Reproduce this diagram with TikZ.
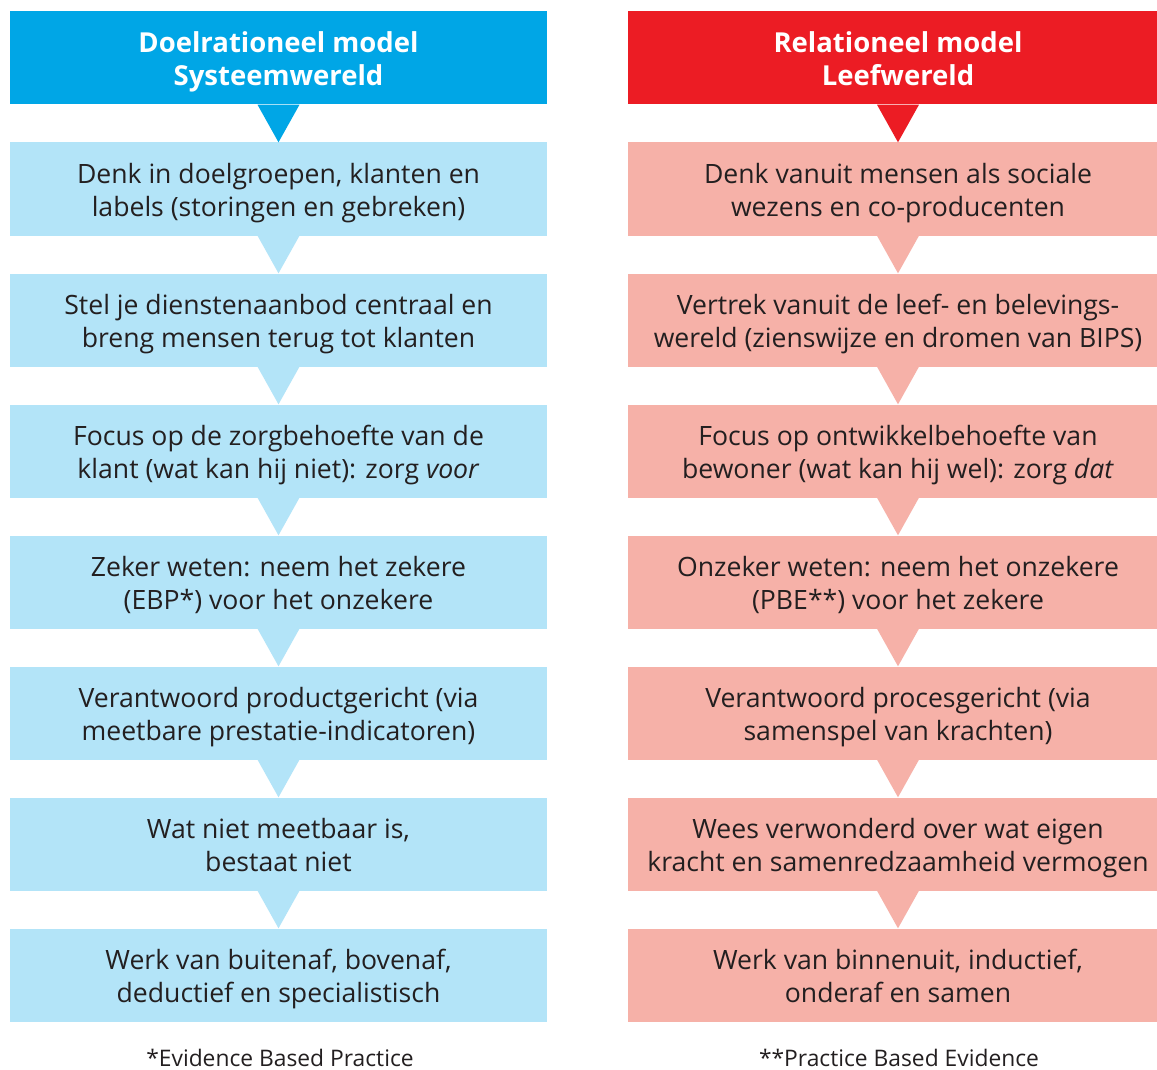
\documentclass[tikz,border=0pt]{standalone}
\usepackage{fontspec}
\setmainfont{Open Sans}
\usetikzlibrary{calc}
\definecolor{hblue}{HTML}{00A6E6}
\definecolor{lblue}{HTML}{B3E4F8}
\definecolor{hred}{HTML}{EC1C24}
\definecolor{lred}{HTML}{F6B1A8}
\definecolor{txt}{HTML}{231F20}
\tikzset{
  box/.style={rectangle, inner sep=0pt, minimum height=93pt, align=center, text=txt,
    font=\fontsize{26.6}{32.5}\selectfont},
  lbox/.style={box, fill=lblue, minimum width=537pt},
  rbox/.style={box, fill=lred, minimum width=540pt},
  hdr/.style={box, text=white, font=\fontsize{27.5}{32.5}\selectfont\bfseries},
  lhdr/.style={hdr, fill=hblue, minimum width=537pt},
  rhdr/.style={hdr, fill=hred, minimum width=540pt},
  note/.style={inner sep=0pt, text=txt, font=\fontsize{22.8}{26}\selectfont},
}
\newcommand{\tri}[3]{\fill[#3] ($(#1.south)+(-21pt,0)$) -- ($(#1.south)+(21pt,0)$) -- (#2.north) -- cycle;}
\newcommand{\tl}[2]{\rule{0pt}{31.5pt}#1\\#2\rule[-9.75pt]{0pt}{9.75pt}}
\begin{document}
\begin{tikzpicture}[x=1pt,y=-1pt]
\useasboundingbox (0,0) rectangle (1157,1070);
\fill[white] (0,0) rectangle (1157,1070);
% left column
\node[lhdr] (L0) at (278.5,58) {\tl{Doelrationeel model}{Systeemwereld}};
\node[lbox] (L1) at (278.5,189) {\tl{Denk in doelgroepen, klanten en}{labels (storingen en gebreken)}};
\node[lbox] (L2) at (278.5,320) {\tl{Stel je dienstenaanbod centraal en}{breng mensen terug tot klanten}};
\node[lbox] (L3) at (278.5,451) {\tl{Focus op de zorgbehoefte van de}{klant (wat kan hij niet): zorg \textit{voor}}};
\node[lbox] (L4) at (278.5,582) {\tl{Zeker weten: neem het zekere}{(EBP*) voor het onzekere}};
\node[lbox] (L5) at (278.5,713) {\tl{Verantwoord productgericht (via}{meetbare prestatie-indicatoren)}};
\node[lbox] (L6) at (278.5,844) {\tl{Wat niet meetbaar is,}{bestaat niet}};
\node[lbox] (L7) at (278.5,975) {\tl{Werk van buitenaf, bovenaf,}{deductief en specialistisch}};
\node[note] (LN) at (280,1058) {*Evidence Based Practice};
% right column
\node[rhdr] (R0) at (898,58) {\tl{Relationeel model}{Leefwereld}};
\node[rbox] (R1) at (898,189) {\tl{Denk vanuit mensen als sociale}{wezens en co-producenten}};
\node[rbox] (R2) at (898,320) {\tl{Vertrek vanuit de leef- en belevings-}{wereld (zienswijze en dromen van BIPS)}};
\node[rbox] (R3) at (898,451) {\tl{Focus op ontwikkelbehoefte van}{bewoner (wat kan hij wel): zorg \textit{dat}}};
\node[rbox] (R4) at (898,582) {\tl{Onzeker weten: neem het onzekere}{(PBE**) voor het zekere}};
\node[rbox] (R5) at (898,713) {\tl{Verantwoord procesgericht (via}{samenspel van krachten)}};
\node[rbox] (R6) at (898,844) {\tl{Wees verwonderd over wat eigen}{kracht en samenredzaamheid vermogen}};
\node[rbox] (R7) at (898,975) {\tl{Werk van binnenuit, inductief,}{onderaf en samen}};
\node[note] (RN) at (899,1058) {**Practice Based Evidence};
% triangles
\tri{L0}{L1}{hblue}
\tri{R0}{R1}{hred}
\foreach \a/\b in {1/2,2/3,3/4,4/5,5/6,6/7}{
  \tri{L\a}{L\b}{lblue}
  \tri{R\a}{R\b}{lred}
}
\end{tikzpicture}
\end{document}
